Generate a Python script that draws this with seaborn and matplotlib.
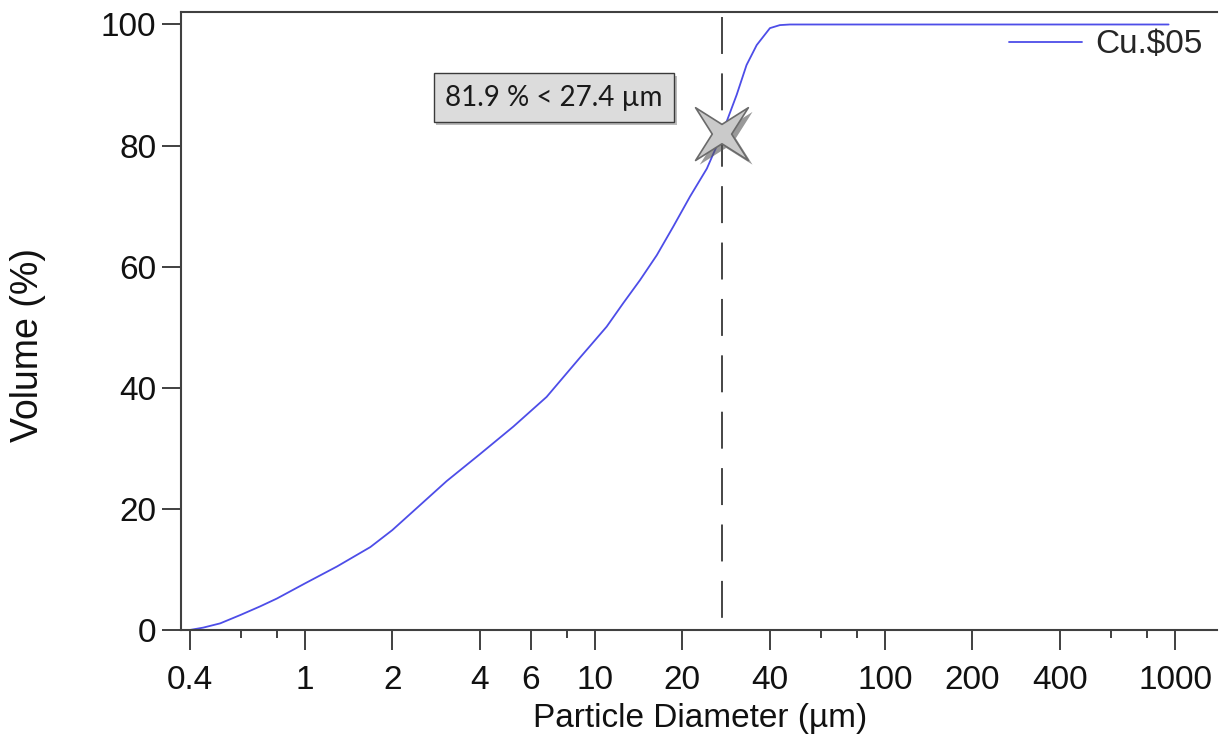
import numpy as np
import matplotlib
matplotlib.use("Agg")
import matplotlib.pyplot as plt
import matplotlib.patheffects as pe
from matplotlib.path import Path
from matplotlib.ticker import FixedLocator, FixedFormatter, NullFormatter
import seaborn as sns

# ===============================
# DATA
# ===============================
diameter = [0.40, 0.446, 0.51, 0.60, 0.70, 0.80, 1.0, 1.29, 1.68, 2.0, 2.36,
            3.08, 4.0, 5.23, 6.81, 8.88, 9.61, 10.97, 12.52, 14.3, 16.33,
            18.6, 21.27, 24.3, 27.4, 30.8, 33.3, 36.1, 40.1, 43.4, 47.0,
            100.0, 300.0, 950.0]
volume = [0.0, 0.4, 1.1, 2.5, 3.9, 5.2, 7.7, 10.5, 13.7, 16.5, 19.6,
          24.6, 29.0, 33.6, 38.5, 45.0, 46.9, 50.1, 54.0, 57.8, 61.9,
          66.6, 71.6, 76.2, 81.9, 88.4, 93.3, 96.6, 99.4, 99.9, 100.0,
          100.0, 100.0, 100.0]
series_name = "Cu.$05"

marker_x = 27.4
marker_y = 81.9
note_text = "81.9 % < 27.4 µm"
note_x = 7.22
note_y = 87.9

major_ticks = [0.4, 1, 2, 4, 6, 10, 20, 40, 100, 200, 400, 1000]
major_labels = ["0.4", "1", "2", "4", "6", "10", "20", "40", "100", "200", "400", "1000"]
minor_ticks = [0.6, 0.8, 8, 60, 80, 600, 800]
y_ticks = [0, 20, 40, 60, 80, 100]

# ===============================
# STYLE
# ===============================
sns.set_theme(style="ticks")
plt.rcParams["font.family"] = ["Liberation Sans", "DejaVu Sans"]
axis_col = "#404040"
text_col = "#111111"

fig = plt.figure(figsize=(12.28, 7.42), dpi=100)
ax = fig.add_axes([0.1474, 0.1509, 0.8437, 0.8329])

sns.lineplot(x=diameter, y=volume, ax=ax, color="#4d4de8", linewidth=1.3,
             sort=False, estimator=None, label=series_name)

ax.set_xscale("log")
ax.set_xlim(0.3737, 1396)
ax.set_ylim(0, 102.06)

# dashed cursor line, drawn from the top down so the dashes start at the top
ax.plot([marker_x, marker_x], [101.2, 0], color="#454545", linewidth=1.4,
        dashes=(19, 10), zorder=1)

# four-point star marker
ang_out = np.deg2rad([45, 135, 225, 315])
ang_in = ang_out + np.deg2rad(45)
verts = []
for a, b in zip(ang_out, ang_in):
    verts.append((np.cos(a), np.sin(a)))
    verts.append((0.26 * np.cos(b), 0.26 * np.sin(b)))
verts.append(verts[0])
codes = [Path.MOVETO] + [Path.LINETO] * (len(verts) - 2) + [Path.CLOSEPOLY]
star = Path(verts, codes)
ax.plot([marker_x], [marker_y], marker=star, markersize=38,
        markerfacecolor="#cacaca", markeredgecolor="#6a6a6a",
        markeredgewidth=1.2, linestyle="none", zorder=4,
        path_effects=[pe.SimplePatchShadow(offset=(3, -3), shadow_rgbFace="#555555", alpha=0.6),
                      pe.Normal()])

# annotation box
t = ax.text(note_x, note_y, note_text, ha="center", va="center",
            fontsize=20, family=["Lato", "DejaVu Sans"], color="#1a1a1a",
            bbox=dict(boxstyle="square,pad=0.42", facecolor="#dcdcdc",
                      edgecolor="#3a3a3a", linewidth=1.0))
t.get_bbox_patch().set_path_effects(
    [pe.SimplePatchShadow(offset=(2, -2), shadow_rgbFace="#777777", alpha=0.5),
     pe.Normal()])

# axes / ticks
ax.xaxis.set_major_locator(FixedLocator(major_ticks))
ax.xaxis.set_major_formatter(FixedFormatter(major_labels))
ax.xaxis.set_minor_locator(FixedLocator(minor_ticks))
ax.xaxis.set_minor_formatter(NullFormatter())
ax.set_yticks(y_ticks)

ax.tick_params(axis="x", which="major", length=14.4, width=1.4, color=axis_col,
               labelsize=24, pad=11, labelcolor=text_col)
ax.tick_params(axis="x", which="minor", length=5.8, width=1.4, color=axis_col)
ax.tick_params(axis="y", which="major", length=13.7, width=1.4, color=axis_col,
               labelsize=24, pad=4, labelcolor=text_col)

for side in ["left", "bottom", "top"]:
    ax.spines[side].set_color(axis_col)
    ax.spines[side].set_linewidth(1.5)
ax.spines["right"].set_visible(False)

ax.set_xlabel("Particle Diameter (µm)", fontsize=24, color=text_col, va="center")
ax.set_ylabel("Volume (%)", fontsize=27, color=text_col, va="center")
ax.xaxis.set_label_coords(0.501, -0.1424)
ax.yaxis.set_label_coords(-0.1477, 0.461)

ax.legend(loc="upper right", bbox_to_anchor=(0.9865, 0.972), frameon=False,
          fontsize=24, handlelength=2.2, handletextpad=0.4,
          borderpad=0, borderaxespad=0)

fig.savefig("out.png", dpi=100)
plt.close(fig)
